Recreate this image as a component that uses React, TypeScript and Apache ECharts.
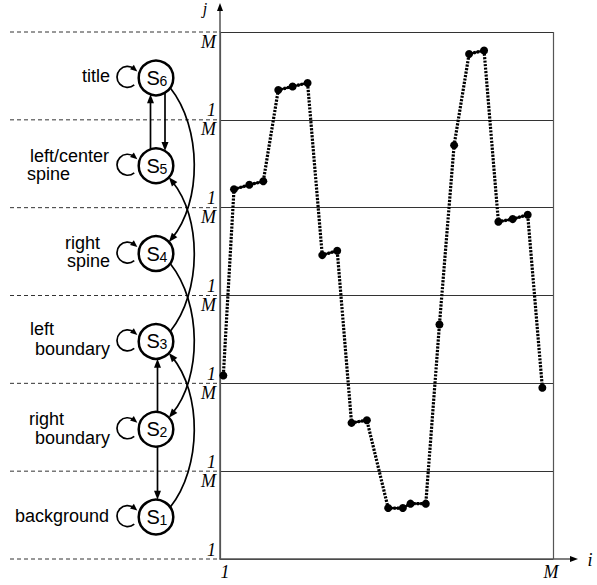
import React, { useEffect, useRef } from 'react';
import * as echarts from 'echarts';

// ---- data ----
const iValues = [1.0, 4.2, 8.8, 13.0, 17.5, 21.8, 26.3, 30.7, 35.2, 39.5, 44.1, 50.5, 54.9, 57.2, 61.8, 65.9, 70.3, 74.8, 79.3, 83.6, 87.9, 92.4, 96.8];
const jValues = [2.09, 4.21, 4.26, 4.3, 5.34, 5.38, 5.42, 3.46, 3.51, 1.55, 1.58, 0.58, 0.58, 0.63, 0.63, 2.67, 4.71, 5.75, 5.79, 3.84, 3.87, 3.92, 1.95];
const runIds = [0, 1, 1, 1, 2, 2, 2, 3, 3, 4, 4, 5, 5, 5, 5, 6, 7, 8, 8, 9, 9, 9, 10];
const xTickLabels = ['1', 'M'];
const bandLowLabel = '1';
const bandHighLabel = 'M';
const axisNames = ['i', 'j'];
const stateIds = ['1', '2', '3', '4', '5', '6'];
const stateLabels = [['background'], ['right', 'boundary'], ['left', 'boundary'], ['right', 'spine'], ['left/center', 'spine'], ['title']];
// transitions between states (1-based): [from, to]
const verticalTransitions = [[6, 5], [5, 6], [2, 3], [2, 1]];
const curvedTransitions = [[6, 4], [3, 5], [4, 2], [1, 3]];

// ---- layout (style, not data) ----
const BANDS = 6;
const labelLineX = [[15], [29, 35], [30, 35], [65, 67], [30, 27], [82]];
const labelLineDy = [[-1], [-10, 9], [-12, 8], [-11, 7], [-10, 8], [-1.5]];
const verticalOffsets: Record<string, number> = { '6-5': 9, '5-6': -5.5, '2-3': 1.5, '2-1': 1.5 };

export default function App() {
  const ref = useRef<HTMLDivElement>(null);
  useEffect(() => {
    const el = ref.current!;
    const chart = echarts.init(el, null, { renderer: 'svg' });
    const serif = '"Liberation Serif", "Times New Roman", serif';
    const sans = '"Liberation Sans", Arial, sans-serif';

    const points = iValues.map((x, n) => [x, jValues[n]]);
    const runs: number[][][] = [];
    let cur: number[][] = [];
    points.forEach((p, n) => {
      if (n > 0 && runIds[n] !== runIds[n - 1]) { runs.push(cur); cur = []; }
      cur.push(p);
    });
    runs.push(cur);

    const series: any[] = [
      { type: 'line', data: points, symbol: 'none', showSymbol: false, lineStyle: { color: '#000', width: 3.2, type: [2.2, 1.3] }, z: 2 },
      ...runs.filter(r => r.length > 1).map(r => ({ type: 'line', data: r, symbol: 'none', showSymbol: false, lineStyle: { color: '#000', width: 2.2 }, z: 3 })),
      { type: 'scatter', data: points, symbol: 'circle', symbolSize: 8, itemStyle: { color: '#000', opacity: 1 }, z: 4 },
    ];

    const labelRich = { fontSize: 18, fontStyle: 'italic', fontFamily: serif, color: '#000', lineHeight: 19, align: 'right' };

    chart.setOption({
      animation: false,
      backgroundColor: '#fff',
      grid: { left: 220, top: 32, width: 333, height: 527, outerBoundsMode: 'none' },
      xAxis: {
        type: 'value', min: 0, max: 100, interval: 100,
        axisLine: { show: true, lineStyle: { color: '#555', width: 1.5 } },
        axisTick: { show: false },
        splitLine: { show: true, lineStyle: { color: '#555', width: 1.2 } },
        axisLabel: {
          show: true, margin: 4, showMinLabel: true, showMaxLabel: true,
          formatter: (v: number) => (v === 0 ? `{l|${xTickLabels[0]}}` : `{r|${xTickLabels[1]}}`),
          rich: {
            l: { fontSize: 18, fontStyle: 'italic', fontFamily: serif, color: '#000', padding: [0, 0, 0, 10] },
            r: { fontSize: 18, fontStyle: 'italic', fontFamily: serif, color: '#000', padding: [0, 4, 0, 0] },
          },
        },
      },
      yAxis: {
        type: 'value', min: 0, max: BANDS, interval: 1,
        axisLine: { show: true, lineStyle: { color: '#555', width: 1.5 } },
        axisTick: { show: false },
        splitLine: { show: true, lineStyle: { color: '#333', width: 1 } },
        axisLabel: {
          show: true, margin: 4, showMinLabel: true, showMaxLabel: true,
          formatter: (v: number) => {
            const k = Math.round(v);
            const up = k < BANDS ? bandLowLabel : '\u00a0';
            const lo = k > 0 ? bandHighLabel : '\u00a0';
            return `{a|${up}}\n{b|${lo}}`;
          },
          rich: { a: labelRich, b: labelRich },
        },
      },
      series,
    });

    const px = (x: number, y: number) => chart.convertToPixel({ gridIndex: 0 } as any, [x, y]) as number[];
    const [axisX, bottomY] = px(0, 0);
    const [rightX, topY] = px(100, BANDS);
    const lineY: number[] = [];
    for (let k = 0; k <= BANDS; k++) lineY.push(px(0, k)[1]);

    const g: any[] = [];
    const black = '#000';
    const arrow = (tx: number, ty: number, dx: number, dy: number, len = 9, half = 3.5) => {
      const m = Math.hypot(dx, dy); dx /= m; dy /= m;
      const bx = tx - dx * len, by = ty - dy * len;
      g.push({ type: 'polygon', shape: { points: [[tx, ty], [bx - dy * half, by + dx * half], [bx + dy * half, by - dx * half]] }, style: { fill: black }, z: 10 });
    };

    // dashed guide lines
    lineY.forEach(y => {
      g.push({ type: 'line', shape: { x1: 10, y1: y, x2: axisX, y2: y }, style: { stroke: '#333', lineWidth: 1, lineDash: [4, 3] }, z: 1 });
    });
    // axis extensions with arrows
    g.push({ type: 'line', shape: { x1: axisX, y1: topY, x2: axisX, y2: 10 }, style: { stroke: '#555', lineWidth: 1.5 }, z: 1 });
    arrow(axisX, 3, 0, -1, 8, 3);
    g.push({ type: 'line', shape: { x1: rightX, y1: bottomY, x2: 572, y2: bottomY }, style: { stroke: '#555', lineWidth: 1.5 }, z: 1 });
    arrow(578, bottomY, 1, 0, 8, 3);
    g.push({ type: 'text', x: 590, y: 569, style: { text: axisNames[0], font: `italic 18px ${serif}`, fill: black, textAlign: 'center', textVerticalAlign: 'bottom' }, z: 10 });
    g.push({ type: 'text', x: 205, y: 0, style: { text: axisNames[1], font: `italic 16px ${serif}`, fill: black, textAlign: 'center', textVerticalAlign: 'top' }, z: 10 });

    // state diagram
    const cx = 156, R = 17.3;
    const cy = stateIds.map((_, k) => (lineY[k] + lineY[k + 1]) / 2 + 2);

    // vertical transitions
    verticalTransitions.forEach(([f, t]) => {
      const off = verticalOffsets[`${f}-${t}`];
      const dir = Math.sign(cy[t - 1] - cy[f - 1]);
      const h = Math.sqrt(R * R - off * off);
      const y1 = cy[f - 1] + dir * h, y2 = cy[t - 1] - dir * h;
      g.push({ type: 'line', shape: { x1: cx + off, y1, x2: cx + off, y2: y2 - dir * 5 }, style: { stroke: black, lineWidth: 1.7 }, z: 5 });
      arrow(cx + off, y2, 0, dir);
    });

    // curved transitions
    const d2r = Math.PI / 180;
    curvedTransitions.forEach(([f, t]) => {
      const yf = cy[f - 1], yt = cy[t - 1];
      const dir = Math.sign(yt - yf);
      const sx = cx + R * Math.cos(35 * d2r), sy = yf + dir * R * Math.sin(35 * d2r);
      const tx = cx + R * Math.cos(42 * d2r), ty = yt - dir * R * Math.sin(42 * d2r);
      const c1x = cx + 46, c1y = sy + dir * 40;
      const c2x = cx + 46, c2y = ty - dir * 40;
      let ddx = tx - c2x, ddy = ty - c2y;
      const m = Math.hypot(ddx, ddy); ddx /= m; ddy /= m;
      g.push({ type: 'bezierCurve', shape: { x1: sx, y1: sy, cpx1: c1x, cpy1: c1y, cpx2: c2x, cpy2: c2y, x2: tx - ddx * 5, y2: ty - ddy * 5 }, style: { stroke: black, lineWidth: 1.7, fill: 'none' }, z: 5 });
      arrow(tx, ty, ddx, ddy);
    });

    stateIds.forEach((id, k) => {
      const y = cy[k];
      // self loop
      const lcx = cx - 28.5, lcy = y - 1, lr = 10.5;
      const a0 = 50 * d2r, a1 = 310 * d2r;
      g.push({ type: 'arc', shape: { cx: lcx, cy: lcy, r: lr, startAngle: a0, endAngle: a1, clockwise: true }, style: { stroke: black, lineWidth: 1.7, fill: 'none' }, z: 5 });
      const ex = lcx + lr * Math.cos(a1), ey = lcy + lr * Math.sin(a1);
      const tdx = -Math.sin(a1), tdy = Math.cos(a1);
      arrow(ex + tdx * 4, ey + tdy * 4, tdx, tdy, 7, 3);
      // node
      g.push({ type: 'circle', shape: { cx, cy: y, r: R }, style: { fill: '#fff', stroke: black, lineWidth: 2.5 }, z: 6 });
      g.push({ type: 'text', x: cx - 9.5, y: y, style: { text: 'S', font: `20px ${sans}`, fill: black, textAlign: 'left', textVerticalAlign: 'middle' }, z: 7 });
      g.push({ type: 'text', x: cx + 3.5, y: y + 3, style: { text: id, font: `14px ${sans}`, fill: black, textAlign: 'left', textVerticalAlign: 'middle' }, z: 7 });
      // label
      stateLabels[k].forEach((line, n) => {
        g.push({ type: 'text', x: labelLineX[k][n], y: y + labelLineDy[k][n], style: { text: line, font: `18px ${sans}`, fill: black, textAlign: 'left', textVerticalAlign: 'middle' }, z: 7 });
      });
    });

    chart.setOption({ graphic: g });
    return () => chart.dispose();
  }, []);
  return <div ref={ref} style={{ position: 'fixed', left: 0, top: 0, width: 597, height: 585, background: '#fff' }} />;
}
